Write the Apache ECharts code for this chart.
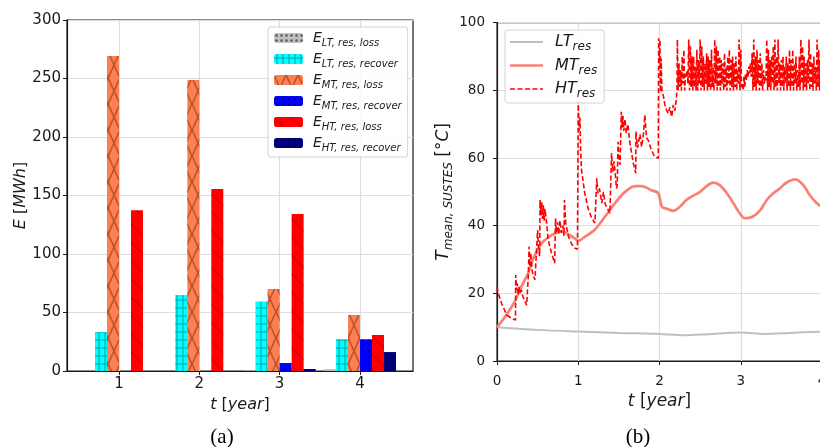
<!DOCTYPE html>
<html><head><meta charset="utf-8">
<script src="https://cdn.jsdelivr.net/npm/echarts@6/dist/echarts.min.js"></script>
<style>html,body{margin:0;padding:0;background:#fff}#c{width:820px;height:447px}</style>
</head><body><div id="c"></div><script>
// ---------- (a) bar chart data ----------
const years = [1, 2, 3, 4];
const eLtLoss = [0, 0, 0.4, 1.7];
const eLtRecover = [33.3, 65, 59.3, 27.1];
const eMtLoss = [269.2, 248.7, 70.1, 47.9];
const eMtRecover = [0, 0, 6.8, 27.1];
const eHtLoss = [137.3, 155.6, 134.2, 30.8];
const eHtRecover = [0, 0, 1.7, 16.2];

// ---------- (b) line chart data ----------
const ltT = [0, 0.5, 1, 1.5, 2, 2.3, 2.6, 3, 3.3, 3.6, 4];
const ltV = [10, 9.2, 8.7, 8.3, 8.0, 7.6, 7.9, 8.4, 8.0, 8.3, 8.7];

const mtT = [0,0.1,0.22,0.3,0.385,0.45,0.55,0.63,0.71,0.8,0.88,0.96,1.0,1.08,1.2,1.33,1.45,1.575,1.7,1.78,1.9,1.985,2.03,2.09,2.17,2.25,2.33,2.41,2.5,2.58,2.66,2.74,2.83,2.91,2.99,3.05,3.15,3.24,3.32,3.4,3.48,3.56,3.67,3.77,3.85,3.93,4.0];
const mtV = [10,13.1,17.6,22,26,30.5,34.8,36.5,37.7,38.2,37.5,36.2,35.5,36.7,38.7,42.7,46.6,50,51.7,51.7,50.5,49.6,45.6,45,44.4,45.6,47.6,48.8,50,51.7,52.7,52,49.6,46.6,43.6,42.2,42.7,44.6,47.6,49.6,51,52.7,53.7,52,49,46.8,45.5];

const htEarly = [[0,22],[0.016,20],[0.057,17],[0.12,13.6],[0.18,12.6],[0.228,12.1],[0.23,25.4],[0.24,21],[0.25,23],[0.26,19.5],[0.27,22],[0.28,20],[0.3,21],[0.32,19],[0.365,16.5],[0.38,16],[0.385,25],[0.395,33.8],[0.405,28],[0.415,32],[0.43,27],[0.45,25],[0.467,24],[0.49,23.5],[0.5,38.7],[0.51,34],[0.525,31],[0.53,47.6],[0.54,43],[0.55,47],[0.56,42],[0.57,46],[0.58,41.5],[0.59,45],[0.61,41],[0.63,35.8],[0.67,32],[0.71,28.9],[0.72,42.2],[0.73,38],[0.745,41],[0.76,37.5],[0.775,41.5],[0.79,38],[0.81,40],[0.825,37],[0.83,47.6],[0.845,41],[0.877,37],[0.92,34.5],[0.96,33.3],[0.99,33],
[1.0,77],[1.01,68],[1.02,72],[1.03,62],[1.04,56.5],[1.08,49.6],[1.12,45.2],[1.165,42.3],[1.205,40.8],[1.226,40.6],[1.228,54],[1.24,49.6],[1.26,51],[1.29,46.7],[1.31,50],[1.33,46.5],[1.36,45],[1.39,43.7],[1.40,44],[1.41,61.4],[1.425,56],[1.44,59],[1.455,55.5],[1.47,51],[1.48,52],[1.49,64.8],[1.5,60],[1.515,58],[1.53,73.7],[1.54,69],[1.55,72.5],[1.56,68],[1.575,71.5],[1.59,67.4],[1.61,70],[1.636,64.4],[1.677,58.5],[1.708,55.5],[1.71,67.8],[1.73,63],[1.76,67],[1.78,63.3],[1.80,66.5],[1.82,72.7],[1.84,66],[1.86,65.3],[1.90,62.4],[1.94,60.4],[1.985,59.9],[1.99,95.4],[2.0,88],[2.005,95],[2.012,79.6],[2.02,89.5],[2.03,80],[2.046,78.6],[2.066,75.7],[2.087,74.2],[2.107,73.2],[2.128,75],[2.15,72.2],[2.17,75.7],[2.19,74],[2.205,77],[2.215,80]];
const htDenseStart = 2.22, htDenseStep = 0.01;
const htDense = [
95,80,88,81,86,80,90,82,92,80,
85,84,86,82,95,80,93,81,90,80,
90,81,87,80,92,80,89,82,95,80,
93,81,90,80,88,82,91,80,90,81,
89,80,92,81,87,80,95,82,93,80,
92,81,90,80,89,82,88,80,91,81,
87,80,90,82,92,80,89,81,90,80,
88,81,90,80,86,82,95,80,92,81,
82,80,84,81,85,83,86,84,87,85,
88,84,91,80,95,81,90,80,92,82,
89,80,91,81,88,80,86,82,84,83,
95,80,92,81,89,80,90,82,93,80,
95,81,90,80,95,82,88,80,89,81,
90,80,87,82,90,80,88,81,92,80,
89,81,92,80,88,82,90,80,86,81,
90,80,95,82,93,80,90,81,88,80,
89,82,95,80,91,81,88,80,90,82,
87,80,95,81,92,80,89,82,94];

const FONT = 'DejaVu Sans';
const INK = '#1a1a1a';
const GRIDC = '#dedede';

const htData = htEarly.concat(htDense.map((v, i) => [+(htDenseStart + i * htDenseStep).toFixed(3), v]));

const legendA = {
  'LTloss': '{l|E}{s|LT, res, loss}',
  'LTrec': '{l|E}{s|LT, res, recover}',
  'MTloss': '{l|E}{s|MT, res, loss}',
  'MTrec': '{l|E}{s|MT, res, recover}',
  'HTloss': '{l|E}{s|HT, res, loss}',
  'HTrec': '{l|E}{s|HT, res, recover}'
};
const legendB = { 'LT': '{l|LT}{s|res}', 'MT': '{l|MT}{s|res}', 'HT': '{l|HT}{s|res}' };

const decals = {
  LTloss: { symbol: 'circle', symbolSize: 0.5, dashArrayX: [5, 0], dashArrayY: [5, 0], color: 'rgba(0,0,0,0.55)' },
  LTrec: { symbol: 'path://M0,3.5h6v1h-6z M2.5,0h1v8h-1z', symbolSize: 1, symbolKeepAspect: false, dashArrayX: [6, 0], dashArrayY: [8, 0], color: 'rgba(0,70,90,0.5)' },
  MTloss: { symbol: 'path://M0,0L1,0L12,24.5L12,26L11,26L0,1.5Z M11,0L12,0L12,1.5L1,26L0,26L0,24.5Z', symbolSize: 1, symbolKeepAspect: false, dashArrayX: [12, 0], dashArrayY: [26, 0], color: 'rgba(90,30,10,0.45)' },
  MTrec: { symbol: 'circle', symbolSize: 0.3, dashArrayX: [6, 0], dashArrayY: [6, 0], color: 'rgba(0,0,0,0.6)' },
  HTloss: { symbol: 'rect', dashArrayX: [1, 0], dashArrayY: [1, 12], rotation: Math.PI / 4, color: 'rgba(90,0,0,0.35)' },
  HTrec: { symbol: 'circle', symbolSize: 0.3, dashArrayX: [6, 0], dashArrayY: [6, 0], color: 'rgba(0,0,0,0.6)' }
};

function bar(name, values, color) {
  return {
    type: 'bar', name, xAxisIndex: 0, yAxisIndex: 0,
    data: years.map((y, i) => [y, values[i]]),
    barWidth: 12, barGap: '0%',
    itemStyle: { color, decal: decals[name] },
    emphasis: { disabled: true }, silent: true
  };
}

const tickLabel = (size) => ({ fontFamily: FONT, fontSize: size, color: INK });

const option = {
  animation: false,
  backgroundColor: '#fff',
  grid: [
    { left: 67, top: 20, width: 346, height: 351, show: true, borderColor: INK, borderWidth: 1.2, backgroundColor: 'transparent', outerBoundsMode: 'none', containLabel: false },
    { left: 497, top: 22.7, width: 325, height: 338.3, show: true, borderColor: INK, borderWidth: 1.2, backgroundColor: 'transparent', outerBoundsMode: 'none', containLabel: false }
  ],
  xAxis: [
    {
      type: 'value', gridIndex: 0, min: 0.353, max: 4.66,
      axisLine: { show: true, lineStyle: { color: INK, width: 1.2 } },
      axisTick: { show: true, length: 4, customValues: years, lineStyle: { color: INK } },
      axisLabel: { customValues: years, margin: 6, ...tickLabel(15) },
      splitLine: { show: true, lineStyle: { color: GRIDC, width: 1.2 } },
      name: '{i|t} [{i|year}]', nameLocation: 'middle', nameGap: 16,
      nameTextStyle: { fontFamily: FONT, fontSize: 16, color: INK, rich: { i: { fontFamily: FONT, fontSize: 16, fontStyle: 'italic', color: INK } } }
    },
    {
      type: 'value', gridIndex: 1, min: 0, max: 4, interval: 1,
      axisLine: { show: true, lineStyle: { color: INK, width: 1.2 } },
      axisTick: { show: true, length: 4, lineStyle: { color: INK } },
      axisLabel: { margin: 13, ...tickLabel(13.5) },
      splitLine: { show: true, lineStyle: { color: GRIDC, width: 1.2 } },
      name: '{i|t} [{i|year}]', nameLocation: 'middle', nameGap: 25,
      nameTextStyle: { fontFamily: FONT, fontSize: 17, color: INK, rich: { i: { fontFamily: FONT, fontSize: 17, fontStyle: 'italic', color: INK } } }
    }
  ],
  yAxis: [
    {
      type: 'value', gridIndex: 0, min: 0, max: 300, interval: 50,
      axisLine: { show: true, lineStyle: { color: INK, width: 1.2 } },
      axisTick: { show: true, length: 4, lineStyle: { color: INK } },
      axisLabel: { margin: 6, ...tickLabel(15) },
      splitLine: { show: true, lineStyle: { color: GRIDC, width: 1.2 } },
      name: '{i|E} [{i|MWh}]', nameLocation: 'middle', nameGap: 36, nameRotate: 90,
      nameTextStyle: { fontFamily: FONT, fontSize: 16, color: INK, rich: { i: { fontFamily: FONT, fontSize: 16, fontStyle: 'italic', color: INK } } }
    },
    {
      type: 'value', gridIndex: 1, min: 0, max: 100, interval: 20,
      axisLine: { show: true, lineStyle: { color: INK, width: 1.2 } },
      axisTick: { show: true, length: 4, lineStyle: { color: INK } },
      axisLabel: { margin: 12, ...tickLabel(13.5) },
      splitLine: { show: true, lineStyle: { color: GRIDC, width: 1.2 } },
      name: '{i|T}{s|mean, SUSTES} [°{i|C}]', nameLocation: 'middle', nameGap: 39, nameRotate: 90,
      nameTextStyle: { fontFamily: FONT, fontSize: 17, color: INK,
        rich: { i: { fontFamily: FONT, fontSize: 17, fontStyle: 'italic', color: INK, lineHeight: 24 },
                s: { fontFamily: FONT, fontSize: 12, fontStyle: 'italic', color: INK, lineHeight: 24, verticalAlign: 'bottom' } } }
    }
  ],
  legend: [
    {
      data: ['LTloss', 'LTrec', 'MTloss', 'MTrec', 'HTloss', 'HTrec'],
      orient: 'vertical', left: 268, top: 27,
      itemWidth: 29, itemHeight: 10, itemGap: 4,
      padding: [4, 6, 4, 6],
      backgroundColor: 'rgba(255,255,255,0.85)', borderColor: '#d4d4d4', borderWidth: 1, borderRadius: 3,
      selectedMode: false,
      formatter: n => legendA[n],
      textStyle: { fontFamily: FONT, fontSize: 14, color: INK,
        rich: { l: { fontFamily: FONT, fontSize: 14, fontStyle: 'italic', color: INK, lineHeight: 20, padding: [0, 0, 0, 5] },
                s: { fontFamily: FONT, fontSize: 10, fontStyle: 'italic', color: INK, lineHeight: 20, verticalAlign: 'bottom' } } }
    },
    {
      data: [
        { name: 'LT', icon: 'path://M0,0H33V2H0Z' },
        { name: 'MT', icon: 'path://M0,0H33V2.4H0Z' },
        { name: 'HT', icon: 'path://M0,0H5V1.6H0Z M7.5,0H12.5V1.6H7.5Z M15,0H20V1.6H15Z M22.5,0H27.5V1.6H22.5Z M30,0H33V1.6H30Z' }
      ],
      orient: 'vertical', left: 505, top: 30,
      itemWidth: 33, itemHeight: 14, itemGap: 4.5,
      padding: [4, 7, 3, 5],
      backgroundColor: 'rgba(255,255,255,0.85)', borderColor: '#d4d4d4', borderWidth: 1, borderRadius: 3,
      selectedMode: false,
      formatter: n => legendB[n],
      textStyle: { fontFamily: FONT, fontSize: 16, color: INK,
        rich: { l: { fontFamily: FONT, fontSize: 16, fontStyle: 'italic', color: INK, lineHeight: 22, padding: [0, 0, 0, 7] },
                s: { fontFamily: FONT, fontSize: 12, fontStyle: 'italic', color: INK, lineHeight: 22, verticalAlign: 'bottom' } } }
    }
  ],
  graphic: [
    { type: 'text', x: 222, y: 437, style: { text: '(a)', fontFamily: 'Liberation Serif', fontSize: 21, fill: '#000', align: 'center', verticalAlign: 'middle' } },
    { type: 'text', x: 638, y: 437, style: { text: '(b)', fontFamily: 'Liberation Serif', fontSize: 21, fill: '#000', align: 'center', verticalAlign: 'middle' } }
  ],
  series: [
    bar('LTloss', eLtLoss, '#c0c0c0'),
    bar('LTrec', eLtRecover, '#00ffff'),
    bar('MTloss', eMtLoss, '#ff7f50'),
    bar('MTrec', eMtRecover, '#0000ff'),
    bar('HTloss', eHtLoss, '#ff0000'),
    bar('HTrec', eHtRecover, '#000080'),
    { type: 'line', name: 'LT', xAxisIndex: 1, yAxisIndex: 1, data: ltT.map((t, i) => [t, ltV[i]]), symbol: 'none', smooth: 0.3,
      lineStyle: { color: '#c0c0c0', width: 2 }, itemStyle: { color: '#c0c0c0' }, silent: true },
    { type: 'line', name: 'MT', xAxisIndex: 1, yAxisIndex: 1, data: mtT.map((t, i) => [t, mtV[i]]), symbol: 'none', smooth: 0.3,
      lineStyle: { color: '#fa8072', width: 2.7 }, itemStyle: { color: '#fa8072' }, silent: true },
    { type: 'line', name: 'HT', xAxisIndex: 1, yAxisIndex: 1, data: htData, symbol: 'none',
      lineStyle: { color: '#ff0000', width: 1.6, type: [5, 2.5] }, itemStyle: { color: '#ff0000' }, silent: true }
  ]
};

const chart = echarts.init(document.getElementById('c'), null, { renderer: 'canvas' });
chart.setOption(option);
</script></body></html>
